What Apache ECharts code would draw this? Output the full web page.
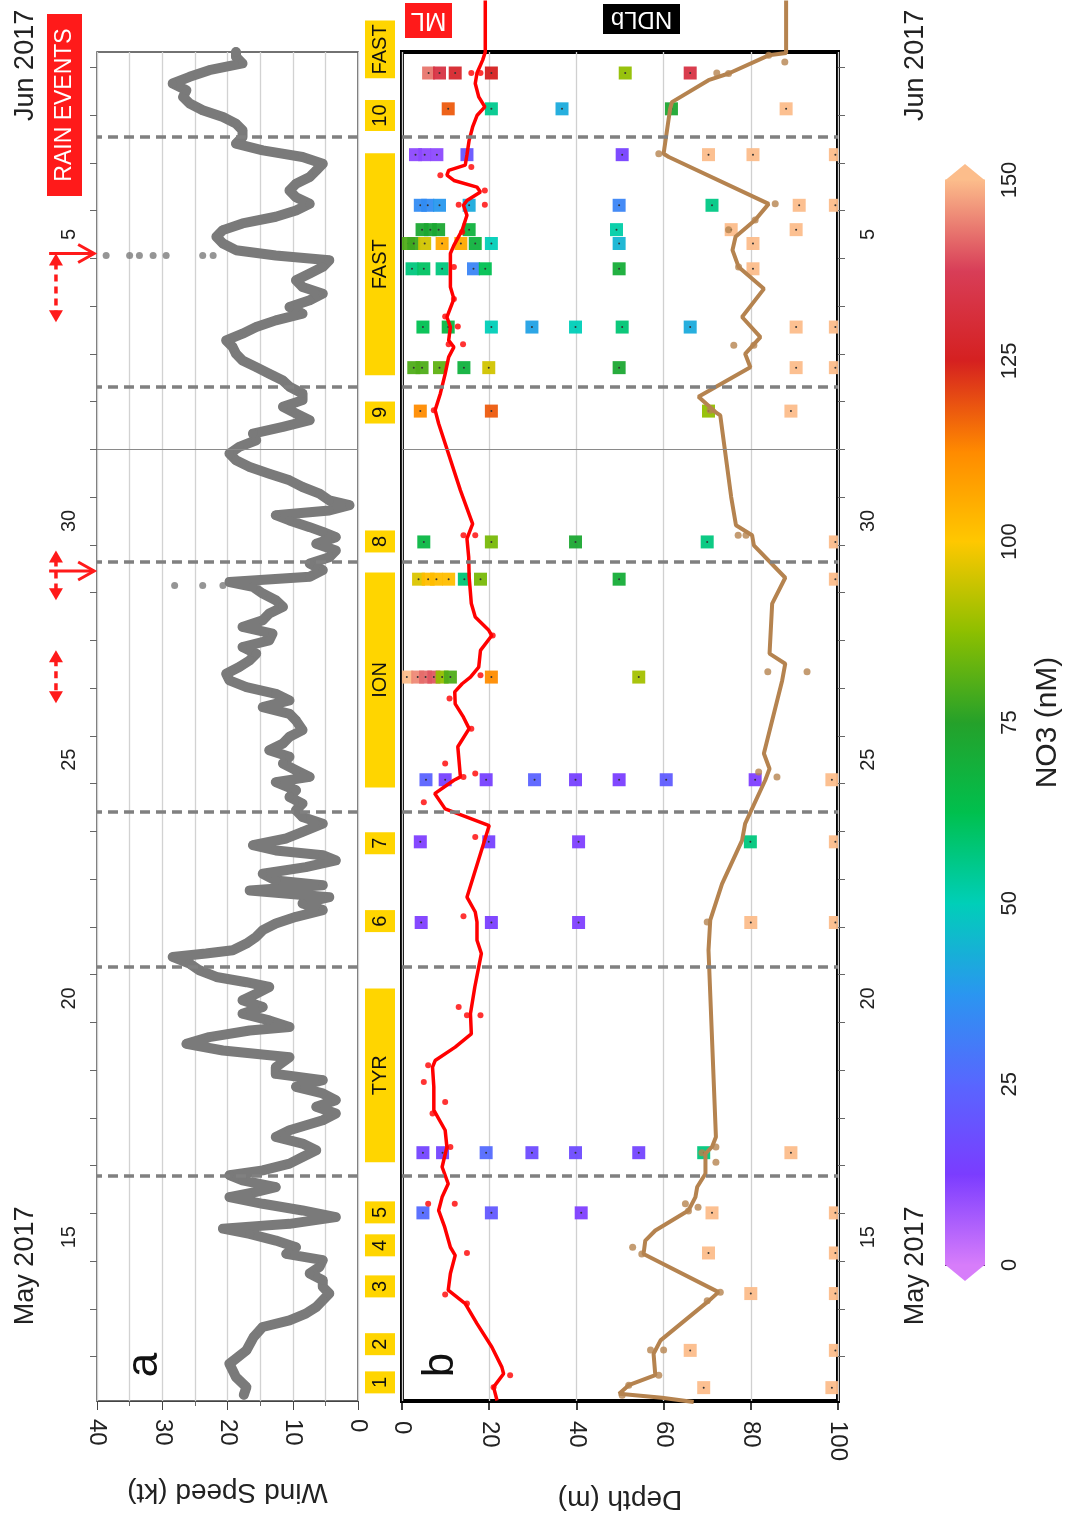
<!DOCTYPE html>
<html><head><meta charset="utf-8">
<script src="https://cdn.jsdelivr.net/npm/echarts@6/dist/echarts.min.js"></script>
<style>html,body{margin:0;padding:0;background:#fff}#c{width:1068px;height:1529px}</style>
</head><body><div id="c"></div>
<script>
// ---------- DATA (time t: May d 00:00 = d, Jun d 00:00 = 31 + d) ----------
const tMin = 12.07, tMax = 40.32;
const dayTicks = [13,14,15,16,17,18,19,20,21,22,23,24,25,26,27,28,29,30,31,32,33,34,35,36,37,38,39,40];
const timeLabelValues = [15.5, 20.5, 25.5, 30.5, 36.5];
const timeLabelTexts = ['15', '20', '25', '30', '5'];
const monthLabelValues = [14.9, 40.04];
const monthLabelTexts = ['May 2017', 'Jun 2017'];
const monthBoundary = [32];
const dashedTimes = [16.78, 21.16, 24.40, 29.64, 33.30, 38.555];

// wind speed [t, kt]
const windSpeed = [
[12.20,17.5],[12.36,17.1],[12.57,18.7],[12.85,19.7],[13.13,17.1],[13.41,16.0],[13.62,14.6],[13.76,10.5],[13.90,8.0],[14.04,6.4],
[14.18,5.4],[14.32,4.4],[14.46,5.4],[14.60,5.4],[14.74,7.4],[14.88,5.9],[15.02,5.4],[15.15,11.0],[15.29,9.5],[15.43,12.6],
[15.57,16.6],[15.68,20.7],[15.78,10.5],[15.92,3.4],[16.06,8.5],[16.20,14.6],[16.34,19.7],[16.45,15.6],[16.55,12.6],[16.69,17.7],
[16.80,19.7],[16.90,14.6],[17.04,10.5],[17.18,8.5],[17.32,6.4],[17.46,8.5],[17.60,12.6],[17.74,10.5],[17.95,5.4],[18.09,3.4],
[18.23,6.4],[18.37,3.4],[18.51,5.4],[18.65,9.5],[18.79,5.4],[18.92,12.6],[19.06,12.6],[19.27,10.5],[19.41,20.7],[19.55,26.3],
[19.69,22.8],[19.83,16.6],[19.90,10.5],[20.04,13.6],[20.18,17.7],[20.32,14.6],[20.46,17.7],[20.60,15.6],[20.74,13.6],[20.84,17.1],
[20.95,21.7],[21.09,24.3],[21.23,25.8],[21.37,28.4],[21.44,23.3],[21.51,19.2],[21.65,17.1],[21.79,15.6],[21.93,14.6],[22.07,12.6],
[22.21,9.5],[22.35,5.4],[22.49,8.5],[22.62,4.4],[22.76,16.6],[22.87,5.4],[22.97,12.6],[23.11,14.6],[23.25,8.0],[23.39,3.4],
[23.50,5.4],[23.60,12.6],[23.71,16.1],[23.85,11.0],[23.99,8.5],[24.16,5.4],[24.30,8.5],[24.44,9.5],[24.58,8.5],[24.72,10.5],
[24.86,9.5],[25.03,12.6],[25.14,7.4],[25.28,9.5],[25.42,11.5],[25.56,10.5],[25.70,13.6],[25.84,11.5],[25.98,10.5],[26.12,8.5],
[26.32,9.5],[26.46,10.5],[26.60,14.6],[26.74,10.5],[26.88,12.6],[27.02,17.1],[27.16,19.7],[27.30,20.2],[27.44,18.2],[27.58,16.6],
[27.72,15.6],[27.86,17.7],[28.00,13.6],[28.14,13.1],[28.28,17.7],[28.42,14.6],[28.56,13.6],[28.70,11.5],[28.84,12.6],[28.98,14.6],
[29.12,16.1],[29.22,19.7],[29.33,7.4],[29.47,5.4],[29.61,7.4],[29.74,4.4],[29.88,3.4],[30.02,6.4],[30.16,3.4],[30.27,5.4],
[30.37,7.4],[30.51,10.5],[30.62,12.6],[30.72,4.4],[30.83,1.3],[30.93,4.4],[31.07,5.9],[31.21,8.5],[31.35,10.5],[31.49,13.6],
[31.63,16.6],[31.77,18.7],[31.91,19.7],[32.05,18.2],[32.19,15.6],[32.33,16.1],[32.47,11.5],[32.61,7.4],[32.75,9.5],[32.89,11.5],
[33.03,8.5],[33.17,8.5],[33.31,10.5],[33.44,11.5],[33.58,13.6],[33.72,15.6],[33.86,17.7],[34.00,18.7],[34.14,19.2],[34.28,20.2],
[34.42,17.7],[34.56,15.6],[34.70,12.6],[34.84,8.5],[34.98,10.5],[35.12,7.4],[35.26,5.4],[35.40,8.5],[35.54,9.5],[35.68,7.4],
[35.82,5.4],[35.96,4.4],[36.06,12.6],[36.17,18.7],[36.31,20.7],[36.45,21.7],[36.59,20.7],[36.73,17.7],[36.87,12.6],[37.00,9.5],
[37.14,7.4],[37.28,9.5],[37.42,10.5],[37.56,9.5],[37.70,7.4],[37.84,6.4],[37.98,5.4],[38.12,8.5],[38.26,14.6],[38.40,18.7],
[38.54,17.7],[38.68,17.7],[38.82,18.7],[38.96,20.7],[39.10,23.8],[39.24,25.8],[39.38,26.8],[39.52,26.3],[39.66,28.4],[39.80,25.8],
[39.94,22.8],[40.08,17.7],[40.22,18.7],[40.32,18.7]
];
// isolated wind readings during rain events [t, kt]
const windRainOutliers = [[36.06,38.6],[36.06,35.0],[36.06,33.5],[36.06,31.4],[36.06,29.4],[36.06,23.8],[36.06,22.2],[29.15,28.1],[29.15,23.8],[29.15,20.7]];

// mixed layer depth (ML) [depth m, t]
const mlLine = [
[21.8,12.08],[21.0,12.36],[23.3,12.64],[22.9,12.78],[20.6,13.20],[17.2,13.69],[14.5,14.11],[10.6,14.39],[11.1,14.74],[12.2,15.12],
[11.1,15.29],[9.8,15.71],[8.4,16.06],[9.2,16.34],[10.6,16.62],[9.2,16.97],[10.3,17.39],[9.9,17.74],[7.3,18.16],[7.3,18.65],
[7.0,19.06],[7.6,19.20],[12.2,19.48],[15.9,19.76],[15.7,20.18],[16.7,20.74],[17.6,21.16],[18.2,21.44],[17.2,21.72],[17.2,22.10],
[16.8,22.31],[14.9,22.62],[20.0,24.12],[9.9,24.47],[7.5,24.79],[11.9,25.07],[13.4,25.14],[12.8,25.77],[15.4,26.15],[14.1,26.39],
[12.2,26.67],[12.1,26.92],[13.8,27.09],[15.7,27.23],[17.6,27.44],[18.0,27.79],[20.6,28.10],[19.9,28.21],[16.8,28.49],[15.9,28.77],
[15.4,29.33],[15.3,29.74],[14.9,30.13],[16.2,30.44],[13.4,31.14],[8.4,32.54],[7.6,32.82],[8.8,33.17],[9.9,33.58],[10.7,33.93],
[11.9,34.14],[10.7,34.28],[11.1,34.56],[10.3,34.77],[11.9,35.15],[11.1,35.40],[11.1,35.75],[11.1,36.10],[11.9,36.27],[13.8,36.59],
[14.9,36.90],[14.1,37.11],[14.9,37.21],[18.0,37.39],[17.2,37.49],[11.9,37.63],[10.3,37.74],[10.7,37.84],[14.5,37.95],[14.9,38.17],
[15.4,38.47],[16.2,38.75],[17.2,38.99],[19.0,39.17],[17.6,39.38],[16.8,39.66],[17.2,39.88],[18.5,40.15],[19.1,40.32],[19.1,41.40]
];
const mlPoints = [
[15.9,39.88],[18.0,39.88],[15.9,37.91],[8.8,37.74],[19.0,37.42],[13.0,37.12],[19.0,37.12],[13.8,36.55],[11.9,35.82],[11.9,35.15],
[9.9,34.78],[12.8,34.57],[10.7,34.20],[14.0,34.20],[7.3,32.82],[16.8,30.20],[14.1,30.20],[20.8,28.10],[18.0,27.27],[10.9,26.78],
[15.9,26.15],[9.9,25.42],[16.8,25.21],[14.1,25.14],[5.0,24.61],[16.8,23.88],[14.1,22.22],[13.0,20.32],[14.9,20.15],[18.0,20.15],
[6.0,19.10],[5.0,18.75],[9.9,18.33],[7.0,18.09],[11.1,17.39],[12.1,16.20],[6.0,16.20],[14.9,15.17],[9.9,14.30],[14.9,14.11],
[24.8,12.61],[21.0,12.36]
];
// nitracline depth (NDLb) [depth m, t]
const ndlLine = [
[66.9,12.05],[59.6,12.14],[49.8,12.22],[52.0,12.40],[58.1,12.61],[57.7,13.06],[59.3,13.34],[70.0,14.14],[72.6,14.35],[55.4,15.15],
[55.8,15.43],[58.1,15.64],[65.7,16.06],[67.3,16.34],[67.7,16.55],[69.6,16.83],[69.6,17.25],[71.1,17.39],[72.0,17.60],[70.3,21.51],
[70.7,22.14],[73.4,22.90],[78.0,23.81],[78.7,24.16],[83.3,25.07],[84.3,25.31],[83.0,25.63],[87.2,27.16],[87.9,27.51],[84.3,27.72],
[84.9,28.77],[87.9,29.31],[80.7,29.99],[80.3,30.20],[76.6,30.41],[75.5,31.00],[73.0,32.71],[71.9,32.78],[68.0,33.10],[79.9,33.72],
[78.7,34.00],[82.2,34.35],[78.0,34.77],[83.0,35.36],[77.2,35.82],[75.8,36.17],[76.5,36.45],[81.0,36.80],[84.1,37.14],[61.2,38.12],
[60.0,38.19],[61.5,39.13],[61.9,39.27],[70.3,39.73],[74.9,39.87],[84.1,40.25],[88.1,40.30],[88.1,41.40]
];
const ndlPoints = [
[84.1,40.25],[72.2,39.88],[74.9,39.87],[87.8,40.11],[58.9,38.19],[85.6,37.14],[81.0,36.80],[74.9,36.60],[77.2,35.82],[76.1,34.18],
[80.7,34.18],[70.7,32.82],[77.1,30.20],[78.9,30.20],[83.9,27.34],[92.9,27.34],[81.8,25.24],[86.0,25.14],[70.0,22.10],[72.0,17.39],
[68.8,17.27],[72.0,17.07],[65.0,16.20],[67.9,16.13],[65.7,16.05],[52.9,15.29],[55.0,15.15],[73.0,14.35],[70.0,14.17],[57.0,13.14],
[60.0,13.14],[58.9,12.61],[52.0,12.40],[50.5,12.19]
];

// NO3 profiles
const profileTimes = [39.88, 39.13, 38.17, 37.11, 36.60, 36.31, 35.78, 34.56, 33.71, 32.80, 30.06, 29.28, 27.23, 25.08, 23.78, 22.09, 17.27, 16.01, 15.17, 14.32, 13.13, 12.35];
const profileDepths = [
 [6.1, 8.6, 12.2, 20.5, 51.2, 66.1],
 [10.6, 20.5, 36.7, 61.8, 88.1],
 [3.1, 5.2, 8.0, 14.9, 50.5, 70.3, 80.5, 99.4],
 [4.2, 5.9, 8.6, 15.4, 49.8, 71.1, 91.1, 99.4],
 [4.6, 6.5, 8.4, 15.4, 49.2, 75.5, 90.4],
 [1.5, 2.7, 5.2, 9.2, 13.5, 16.8, 20.5, 49.8, 80.5],
 [2.3, 5.0, 9.2, 16.4, 19.1, 49.8, 80.5],
 [4.8, 10.6, 20.5, 29.8, 39.8, 50.5, 66.1, 90.4, 99.4],
 [2.7, 4.6, 8.6, 14.2, 19.9, 49.8, 90.4, 99.4],
 [4.2, 20.5, 70.3, 89.2],
 [5.0, 20.5, 39.8, 70.0, 99.4],
 [3.8, 6.0, 7.9, 10.7, 14.3, 18.0, 49.8, 99.4],
 [1.1, 3.6, 5.4, 7.3, 9.2, 11.1, 20.5, 54.3],
 [5.5, 9.9, 19.3, 30.4, 39.8, 49.8, 60.6, 81.0, 98.6],
 [4.2, 19.9, 40.5, 79.9, 99.4],
 [4.4, 20.5, 40.5, 80.0, 99.4],
 [4.8, 9.3, 19.3, 29.8, 39.8, 54.3, 69.2, 89.2],
 [4.8, 20.5, 41.1, 71.1, 99.4],
 [70.3, 99.4],
 [80.0, 99.4],
 [66.1, 99.4],
 [69.2, 98.6]
];
const profileNO3 = [
 [143, 133, 128, 125, 88, 133],
 [118, 55, 42, 72, 150],
 [10, 10, 10, 20, 14, 150, 150, 150],
 [35, 35, 38, 42, 33, 56, 150, 150],
 [72, 72, 72, 68, 52, 150, 150],
 [80, 78, 95, 106, 106, 68, 50, 44, 150],
 [57, 60, 57, 33, 62, 70, 150],
 [62, 66, 50, 40, 50, 58, 42, 150, 150],
 [80, 80, 82, 68, 95, 72, 150, 150],
 [112, 118, 88, 150],
 [66, 85, 72, 57, 150],
 [96, 102, 102, 102, 58, 85, 70, 150],
 [150, 145, 142, 140, 88, 80, 112, 90],
 [24, 14, 14, 24, 14, 13, 22, 12, 150],
 [12, 14, 12, 57, 150],
 [12, 13, 12, 150, 150],
 [15, 15, 26, 17, 17, 15, 57, 150],
 [26, 21, 12, 150, 150],
 [150, 150], [150, 150], [150, 150], [150, 150]
];

// stations and cruise legs
const stationNames = ['1','2','3','4','5','6','7','8','9','10'];
const stationTimes = [12.46, 13.26, 14.47, 15.33, 16.02, 22.12, 23.75, 30.07, 32.77, 38.99];
const legNames = ['TYR','ION','FAST','FAST'];
const legStarts = [17.07, 24.92, 33.55, 39.77];
const legEnds = [20.71, 29.42, 38.20, 40.98];

// rain events
const rainStarts = [34.66, 28.84, 26.68];
const rainEnds = [36.10, 29.88, 27.79];
const rainArrows = [36.10, 29.45, null];

// NO3 colour scale
const no3ColorValues = [0, 12.5, 25, 37.5, 50, 62.5, 75, 87.5, 100, 112.5, 125, 137.5, 150];
const no3Colors = ['#d77dfa','#7b3cff','#5866ff','#2a96f0','#00cfb8','#00c04e','#25a12a','#8dbf00','#ffc800','#ff8a00','#d52020','#d83e58','#fcbd8b'];

// ---------- CHART ----------
const FONT = 'Liberation Sans, Arial, sans-serif';
const chart = echarts.init(document.getElementById('c'), null, {renderer: 'canvas'});

const squares = [];
profileTimes.forEach((t, i) => profileDepths[i].forEach((d, j) => squares.push([d, t, profileNO3[i][j]])));

const stationData = stationTimes.map(t => [0.5, t, t]).concat(legStarts.map((s, i) => [0.5, s, legEnds[i]]));
const stationText = stationNames.concat(legNames);

function labelFmt(values, texts) {
  return v => { const i = values.findIndex(x => Math.abs(x - v) < 1e-6); return i >= 0 ? texts[i] : ''; };
}

function dashedMark() {
  return {
    silent: true, symbol: ['none', 'none'], label: {show: false},
    data: dashedTimes.map(t => ({yAxis: t, lineStyle: {type: [10, 6], color: '#808080', width: 3.5}}))
      .concat(monthBoundary.map(t => ({yAxis: t, lineStyle: {type: 'solid', color: '#8a8a8a', width: 1.2}})))
  };
}

const timeAxisBase = {type: 'value', min: tMin, max: tMax, splitLine: {show: false}, axisLine: {show: false, onZero: false}};

const option = {
  animation: false,
  textStyle: {fontFamily: FONT},
  grid: [
    {left: 97, top: 52, width: 261, height: 1349, show: true, borderColor: '#444', borderWidth: 1.5},
    {left: 402, top: 52, width: 436, height: 1349, show: true, borderColor: '#000', borderWidth: 4},
    {left: 365, top: 17, width: 30, height: 1384},
    {left: 40, top: 52, width: 57, height: 1349},
    {left: 945, top: 180, width: 40, height: 1085}
  ],
  visualMap: [{type: 'continuous', show: false, min: 0, max: 150, dimension: 2, seriesIndex: 2, inRange: {color: no3Colors}}],
  xAxis: [
    {gridIndex: 0, type: 'value', min: 0, max: 40, interval: 10, inverse: true, position: 'bottom',
     axisLine: {show: true, onZero: false, lineStyle: {color: '#444'}}, axisTick: {length: 9, lineStyle: {color: '#444'}},
     minorTick: {show: true, splitNumber: 2, length: 5, lineStyle: {color: '#666'}},
     splitLine: {show: true, lineStyle: {color: '#d2d2d2', width: 1.3}},
     minorSplitLine: {show: true, lineStyle: {color: '#d2d2d2', width: 1.3}},
     axisLabel: {rotate: -90, fontSize: 24, margin: 18, color: '#222'},
     name: 'Wind Speed (kt)', nameLocation: 'middle', nameRotate: 180, nameGap: 77,
     nameTextStyle: {fontSize: 28, color: '#222'}},
    {gridIndex: 1, type: 'value', min: 0, max: 100, interval: 20, position: 'bottom',
     axisLine: {show: false, onZero: false}, axisTick: {length: 9, lineStyle: {color: '#000', width: 1.5}},
     splitLine: {show: true, lineStyle: {color: '#d0d0d0', width: 1.3}},
     axisLabel: {rotate: -90, fontSize: 24, margin: 20, color: '#222'},
     name: 'Depth (m)', nameLocation: 'middle', nameRotate: 180, nameGap: 84,
     nameTextStyle: {fontSize: 28, color: '#222'}},
    {gridIndex: 2, type: 'value', min: 0, max: 1, show: false},
    {gridIndex: 3, type: 'value', min: 0, max: 1, show: false},
    {gridIndex: 4, type: 'value', min: 0, max: 1, show: false}
  ],
  yAxis: [
    Object.assign({}, timeAxisBase, {gridIndex: 0, position: 'left',
      axisTick: {show: true, customValues: dayTicks, length: 7, lineStyle: {color: '#666'}},
      axisLabel: {customValues: timeLabelValues, formatter: labelFmt(timeLabelValues, timeLabelTexts), rotate: 90, fontSize: 20, margin: 18, color: '#222'}}),
    Object.assign({}, timeAxisBase, {gridIndex: 0, position: 'left', axisTick: {show: false},
      axisLabel: {customValues: monthLabelValues, formatter: labelFmt(monthLabelValues, monthLabelTexts), rotate: 90, fontSize: 27, margin: 58, color: '#222'}}),
    Object.assign({}, timeAxisBase, {gridIndex: 1, position: 'right',
      axisTick: {show: true, customValues: dayTicks, length: 7, lineStyle: {color: '#666'}},
      axisLabel: {customValues: timeLabelValues, formatter: labelFmt(timeLabelValues, timeLabelTexts), rotate: 90, fontSize: 20, margin: 20, color: '#222'}}),
    Object.assign({}, timeAxisBase, {gridIndex: 1, position: 'right', axisTick: {show: false},
      axisLabel: {customValues: monthLabelValues, formatter: labelFmt(monthLabelValues, monthLabelTexts), rotate: 90, fontSize: 27, margin: 64, color: '#222'}}),
    {gridIndex: 2, type: 'value', min: tMin, max: tMax + 35 / 47.75, show: false},
    {gridIndex: 3, type: 'value', min: tMin, max: tMax, show: false},
    {gridIndex: 4, type: 'value', min: 0, max: 150, interval: 25, position: 'right',
     axisLine: {show: false, onZero: false}, splitLine: {show: false},
     axisTick: {show: true, inside: true, length: 7, lineStyle: {color: '#000'}},
     axisLabel: {rotate: 90, fontSize: 22, margin: 14, color: '#222'},
     name: 'NO3 (nM)', nameLocation: 'middle', nameRotate: 90, nameGap: 48,
     nameTextStyle: {fontSize: 30, color: '#222'}},
    {gridIndex: 4, type: 'value', min: 0, max: 150, interval: 25, position: 'left',
     axisLine: {show: false, onZero: false}, splitLine: {show: false}, axisLabel: {show: false},
     axisTick: {show: true, inside: true, length: 7, lineStyle: {color: '#000'}}}
  ],
  series: [
    {type: 'line', xAxisIndex: 0, yAxisIndex: 0, data: windSpeed.map(p => [p[1], p[0]]),
     lineStyle: {color: '#7a7a7a', width: 10, cap: 'round', join: 'round'}, symbol: 'circle', symbolSize: 9, showAllSymbol: true,
     itemStyle: {color: '#7a7a7a'}, markLine: dashedMark(), z: 3},
    {type: 'scatter', xAxisIndex: 0, yAxisIndex: 0, data: windRainOutliers.map(p => [p[1], p[0]]),
     symbolSize: 7, itemStyle: {color: '#7a7a7a'}},
    {type: 'custom', xAxisIndex: 1, yAxisIndex: 2, data: squares, encode: {x: 0, y: 1}, z: 3,
     renderItem: function (params, api) {
       const p = api.coord([api.value(0), api.value(1)]);
       const s = 13;
       const cs = params.coordSys;
       const r = echarts.graphic.clipRectByRect({x: p[0] - s / 2, y: p[1] - s / 2, width: s, height: s},
                                               {x: cs.x, y: cs.y, width: cs.width, height: cs.height});
       if (!r) return;
       return {type: 'group', children: [
         {type: 'rect', shape: r, style: {fill: api.visual('color'), opacity: 0.95}},
         {type: 'circle', shape: {cx: p[0], cy: p[1], r: 1}, style: {fill: '#333'}}
       ]};
     }},
    {type: 'line', xAxisIndex: 1, yAxisIndex: 2, data: mlLine, clip: false, showSymbol: false,
     lineStyle: {color: '#ff0000', width: 3.5}, markLine: dashedMark(), z: 4},
    {type: 'scatter', xAxisIndex: 1, yAxisIndex: 2, data: mlPoints, symbolSize: 6, itemStyle: {color: '#ff0000'}, z: 4},
    {type: 'line', xAxisIndex: 1, yAxisIndex: 2, data: ndlLine, clip: false, showSymbol: false,
     lineStyle: {color: '#b5834f', width: 4}, z: 4},
    {type: 'scatter', xAxisIndex: 1, yAxisIndex: 2, data: ndlPoints, symbolSize: 7, itemStyle: {color: '#b5834f'}, z: 4},
    {type: 'custom', xAxisIndex: 2, yAxisIndex: 4, data: stationData, encode: {x: 0, y: [1, 2]},
     renderItem: function (params, api) {
       const cs = params.coordSys;
       const name = stationText[params.dataIndex];
       let y0 = api.coord([0, api.value(2)])[1], y1 = api.coord([0, api.value(1)])[1];
       const minH = name.length > 1 ? 31 : 22;
       if (y1 - y0 < minH) { const m = (y0 + y1) / 2; y0 = m - minH / 2; y1 = m + minH / 2; }
       return {type: 'group', children: [
         {type: 'rect', shape: {x: cs.x, y: y0, width: cs.width, height: y1 - y0}, style: {fill: '#ffd500'}},
         {type: 'text', x: cs.x + cs.width / 2, y: (y0 + y1) / 2, rotation: Math.PI / 2,
          style: {text: name, fill: '#111', font: '20px ' + FONT, align: 'center', verticalAlign: 'middle'}}
       ]};
     }},
    {type: 'custom', xAxisIndex: 3, yAxisIndex: 5, data: rainStarts.map((s, i) => [0.5, s, rainEnds[i]]), encode: {x: 0, y: [1, 2]},
     renderItem: function (params, api) {
       const cs = params.coordSys;
       const yTop = api.coord([0, api.value(2)])[1], yBot = api.coord([0, api.value(1)])[1];
       const x = cs.x + cs.width * 0.28;
       const red = '#ff1a1a';
       const ch = [
         {type: 'line', shape: {x1: x, y1: yTop + 9, x2: x, y2: yBot - 9}, style: {stroke: red, lineWidth: 3.5, lineDash: [7, 5]}},
         {type: 'polygon', shape: {points: [[x - 7, yTop + 12], [x + 7, yTop + 12], [x, yTop]]}, style: {fill: red}},
         {type: 'polygon', shape: {points: [[x - 7, yBot - 12], [x + 7, yBot - 12], [x, yBot]]}, style: {fill: red}}
       ];
       const ta = rainArrows[params.dataIndex];
       if (ta !== null) {
         const ya = api.coord([0, ta])[1];
         const xs = cs.x + cs.width * 0.16, xe = cs.x + cs.width * 0.95;
         ch.push({type: 'line', shape: {x1: xs, y1: ya, x2: xe, y2: ya}, style: {stroke: red, lineWidth: 3}});
         ch.push({type: 'polyline', shape: {points: [[xe - 16, ya - 9], [xe, ya], [xe - 16, ya + 9]]}, style: {stroke: red, lineWidth: 3, fill: null}});
       }
       return {type: 'group', children: ch};
     }},
    {type: 'custom', xAxisIndex: 4, yAxisIndex: 6, data: no3ColorValues.map(v => [0, v]), encode: {x: 0, y: 1},
     renderItem: function (params, api) {
       const i = params.dataIndex, n = no3ColorValues.length;
       const cs = params.coordSys;
       const ch = [];
       if (i < n - 1) {
         const yb = api.coord([0, no3ColorValues[i]])[1];
         const yt = api.coord([0, no3ColorValues[i + 1]])[1];
         ch.push({type: 'rect', shape: {x: cs.x, y: yt - 0.5, width: cs.width, height: yb - yt + 1},
                  style: {fill: new echarts.graphic.LinearGradient(0, 0, 0, 1, [{offset: 0, color: no3Colors[i + 1]}, {offset: 1, color: no3Colors[i]}])}});
       }
       if (i === 0) {
         const y = api.coord([0, no3ColorValues[0]])[1];
         ch.push({type: 'polygon', shape: {points: [[cs.x, y - 0.5], [cs.x + cs.width, y - 0.5], [cs.x + cs.width / 2, y + 16]]}, style: {fill: no3Colors[0]}});
       }
       if (i === n - 1) {
         const y = api.coord([0, no3ColorValues[n - 1]])[1];
         ch.push({type: 'polygon', shape: {points: [[cs.x, y + 0.5], [cs.x + cs.width, y + 0.5], [cs.x + cs.width / 2, y - 16]]}, style: {fill: no3Colors[n - 1]}});
       }
       return {type: 'group', children: ch};
     }}
  ],
  graphic: [
    {type: 'rect', left: 47, top: 14, shape: {width: 35, height: 182}, style: {fill: '#ff1a1a'}},
    {type: 'text', x: 64.5, y: 105, rotation: Math.PI / 2, style: {text: 'RAIN EVENTS', fill: '#fff', font: '23px ' + FONT, align: 'center', verticalAlign: 'middle'}},
    {type: 'rect', left: 405, top: 3, shape: {width: 47, height: 35}, style: {fill: '#ff1a1a'}},
    {type: 'text', x: 428.5, y: 20.5, rotation: Math.PI, style: {text: 'ML', fill: '#fff', font: '26px ' + FONT, align: 'center', verticalAlign: 'middle'}},
    {type: 'rect', left: 603, top: 4, shape: {width: 77, height: 30}, style: {fill: '#000'}},
    {type: 'text', x: 641.5, y: 19, rotation: Math.PI, style: {text: 'NDLb', fill: '#fff', font: '24px ' + FONT, align: 'center', verticalAlign: 'middle'}},
    {type: 'text', x: 145, y: 1365, rotation: Math.PI / 2, style: {text: 'a', fill: '#111', font: '44px ' + FONT, align: 'center', verticalAlign: 'middle'}},
    {type: 'text', x: 441, y: 1365, rotation: Math.PI / 2, style: {text: 'b', fill: '#111', font: '44px ' + FONT, align: 'center', verticalAlign: 'middle'}}
  ]
};
chart.setOption(option);
</script>
</body></html>
